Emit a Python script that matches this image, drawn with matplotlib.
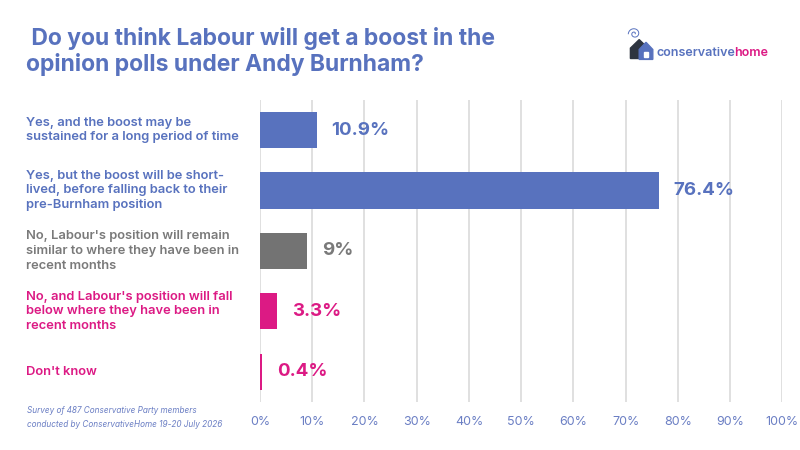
import matplotlib.pyplot as plt
import matplotlib.transforms as mtransforms
from matplotlib.patches import Polygon, Rectangle
import numpy as np

plt.rcParams['font.family'] = ['Inter', 'DejaVu Sans']

categories = [
    "Yes, and the boost may be\nsustained for a long period of time",
    "Yes, but the boost will be short-\nlived, before falling back to their\npre-Burnham position",
    "No, Labour's position will remain\nsimilar to where they have been in\nrecent months",
    "No, and Labour's position will fall\nbelow where they have been in\nrecent months",
    "Don't know",
]
values = [10.9, 76.4, 9, 3.3, 0.4]
value_labels = ["10.9%", "76.4%", "9%", "3.3%", "0.4%"]
ticks = [0, 10, 20, 30, 40, 50, 60, 70, 80, 90, 100]

BLUE = "#5872be"
GREY = "#737373"
PINK = "#dc1a84"
colors = [BLUE, BLUE, GREY, PINK, PINK]
label_colors = [BLUE, BLUE, "#7a7a7a", PINK, PINK]

fig = plt.figure(figsize=(8, 4.5), dpi=100)
ax = fig.add_axes([0.325, 0.107, 0.653, 0.671])

y = np.arange(len(values))
ax.barh(y, values, height=0.6, color=colors, zorder=2)
ax.set_ylim(len(values) - 0.5, -0.5)
ax.set_xlim(0, 100)

for yi, v, lab, c in zip(y, values, value_labels, label_colors):
    ax.text(v + 2.8, yi, lab, va="center", ha="left", fontsize=13.5,
            fontweight="bold", color=c, zorder=3)

ax.set_xticks(ticks)
ax.set_xticklabels([f"{t}%" for t in ticks], color="#6b7fc4", fontsize=9)
ax.tick_params(axis="x", length=0, pad=10)
ax.set_yticks([])
ax.grid(axis="x", color="#dddddd", linewidth=1.3, zorder=1)
for s in ax.spines.values():
    s.set_visible(False)

# category labels on the left, in figure x / data y
lab_tr = mtransforms.blended_transform_factory(fig.transFigure, ax.transData)
for yi, cat, c in zip(y, categories, label_colors):
    fig.text(0.033, yi, cat, transform=lab_tr, va="center", ha="left",
             fontsize=9.3, fontweight="semibold", color=c, linespacing=1.3)

# title
fig.text(0.033, 0.94, " Do you think Labour will get a boost in the\nopinion polls under Andy Burnham?",
         ha="left", va="top", fontsize=16.5, fontweight="bold", color=BLUE,
         linespacing=1.15)

# footnote
fig.text(0.034, 0.072, "Survey of 487 Conservative Party members\nconducted by ConservativeHome 19-20 July 2026",
         ha="left", va="center", fontsize=5.9, style="italic", color="#6b7fc4",
         linespacing=1.7)

# logo
fig.patches.append(Polygon([[0.788, 0.870], [0.788, 0.893], [0.799, 0.912],
                            [0.810, 0.893], [0.810, 0.870]], closed=True,
                           transform=fig.transFigure, color="#2e3440"))
fig.patches.append(Polygon([[0.799, 0.868], [0.799, 0.890], [0.8075, 0.906],
                            [0.816, 0.890], [0.816, 0.868]], closed=True,
                           transform=fig.transFigure, color=BLUE))
fig.patches.append(Rectangle((0.8045, 0.874), 0.006, 0.010, transform=fig.transFigure,
                             color="white"))
th = np.linspace(0, 3 * np.pi, 60)
r = 0.001 + 0.0007 * th
fig.lines.append(plt.Line2D(0.793 + r * np.cos(th), 0.925 + r * np.sin(th) * 1.7,
                            transform=fig.transFigure, color=BLUE, linewidth=0.7))
t1 = fig.text(0.821, 0.882, "conservative", ha="left", va="center",
              fontsize=9, fontweight="semibold", color=BLUE)
fig.canvas.draw()
bb = t1.get_window_extent()
fig.text((bb.x1 - 2) / fig.bbox.width, 0.882, "home", ha="left", va="center",
         fontsize=9, fontweight="semibold", color=PINK)

fig.savefig("out.png", dpi=100)
